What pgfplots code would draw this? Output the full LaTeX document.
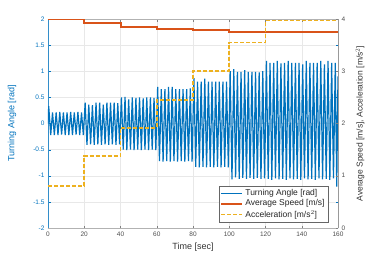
\documentclass[border=0pt]{standalone}
\usepackage{pgfplots}
\pgfplotsset{compat=1.18}
\usepackage{fontspec}
\setmainfont{Liberation Sans}
\definecolor{mblue}{rgb}{0,0.447,0.741}
\definecolor{morange}{rgb}{0.85,0.325,0.098}
\definecolor{myellow}{rgb}{0.929,0.694,0.125}
\begin{document}
\begin{tikzpicture}
\path[use as bounding box] (-48pt,-29pt) rectangle (326pt,228pt);
\begin{axis}[at={(0,0)}, anchor=south west, scale only axis, width=290pt, height=209pt,
  xmin=0, xmax=160, ymin=-2, ymax=2,
  xtick={0,20,...,160}, ytick={-2,-1.5,-1,-0.5,0,0.5,1,1.5,2},
  separate axis lines,
  x axis line style={black!30},
  y axis line style={mblue!80},
  grid=major, grid style={black!9, line width=0.4pt},
  tick align=inside, major tick length=2.5pt,
  x tick style={black!50}, y tick style={mblue},
  /pgf/number format/assume math mode=true,
  xticklabel style={font=\fontsize{6.5}{7}\selectfont, text=black!70},
  yticklabel style={font=\fontsize{6.5}{7}\selectfont, text=mblue},
  xlabel={Time [sec]}, ylabel={Turning Angle [rad]},
  xlabel style={font=\fontsize{9}{10}\selectfont, text=black!80, at={(axis description cs:0.5,-0.091)}, anchor=center},
  ylabel style={font=\fontsize{9}{10}\selectfont, text=mblue, at={(axis description cs:-0.124,0.5)}, anchor=center},
]
\addplot[mblue, line width=1.2pt] coordinates {
(0,0) (0.4,0.33) (1.5,-0.22) (2.5,0.21) (3.5,-0.22) (4.5,0.21) (5.5,-0.22) (6.5,0.22) (7.5,-0.21) (8.5,0.21) (9.5,-0.22)
(10.5,0.21) (11.5,-0.22) (12.5,0.22) (13.5,-0.22) (14.5,0.21) (15.5,-0.21) (16.5,0.22) (17.5,-0.22) (18.5,0.21) (19.5,-0.22)
(20.5,0.40) (21.5,-0.41) (22.5,0.36) (23.5,-0.40) (24.5,0.35) (25.5,-0.41) (26.5,0.40) (27.5,-0.40) (28.5,0.40) (29.5,-0.41)
(30.5,0.36) (31.5,-0.40) (32.5,0.40) (33.5,-0.41) (34.5,0.40) (35.5,-0.40) (36.5,0.40) (37.5,-0.41) (38.5,0.39) (39.5,-0.40)
(40.5,0.50) (41.5,-0.50) (42.5,0.51) (43.5,-0.51) (44.5,0.46) (45.5,-0.50) (46.5,0.50) (47.5,-0.51) (48.5,0.49) (49.5,-0.50)
(50.5,0.50) (51.5,-0.51) (52.5,0.48) (53.5,-0.50) (54.5,0.50) (55.5,-0.51) (56.5,0.50) (57.5,-0.50) (58.5,0.49) (59.5,-0.51)
(60.5,0.70) (61.5,-0.72) (62.5,0.66) (63.5,-0.73) (64.5,0.66) (65.5,-0.72) (66.5,0.70) (67.5,-0.73) (68.5,0.70) (69.5,-0.72)
(70.5,0.66) (71.5,-0.73) (72.5,0.66) (73.5,-0.72) (74.5,0.66) (75.5,-0.73) (76.5,0.66) (77.5,-0.72) (78.5,0.67) (79.5,-0.73)
(80.5,0.87) (81.5,-0.83) (82.5,0.80) (83.5,-0.84) (84.5,0.80) (85.5,-0.83) (86.5,0.86) (87.5,-0.84) (88.5,0.80) (89.5,-0.83)
(90.5,0.80) (91.5,-0.84) (92.5,0.80) (93.5,-0.83) (94.5,0.80) (95.5,-0.84) (96.5,0.80) (97.5,-0.83) (98.5,0.80) (99.5,-0.84)
(100.5,1.00) (101.5,-1.07) (102.5,1.04) (103.5,-1.03) (104.5,0.99) (105.5,-1.06) (106.5,0.99) (107.5,-1.04) (108.5,1.02) (109.5,-1.06)
(110.5,0.99) (111.5,-1.04) (112.5,0.99) (113.5,-1.06) (114.5,0.99) (115.5,-1.04) (116.5,0.98) (117.5,-1.06) (118.5,1.00) (119.5,-1.05)
(120.5,1.20) (121.5,-1.06) (122.5,1.16) (123.5,-1.08) (124.5,1.16) (125.5,-1.05) (126.5,1.20) (127.5,-1.07) (128.5,1.15) (129.5,-1.06)
(130.5,1.16) (131.5,-1.08) (132.5,1.20) (133.5,-1.05) (134.5,1.16) (135.5,-1.07) (136.5,1.16) (137.5,-1.06) (138.5,1.16) (139.5,-1.08)
(140.5,1.13) (141.5,-1.05) (142.5,1.20) (143.5,-1.07) (144.5,1.16) (145.5,-1.06) (146.5,1.16) (147.5,-1.08) (148.5,1.16) (149.5,-1.05)
(150.5,1.20) (151.5,-1.07) (152.5,1.13) (153.5,-1.06) (154.5,1.20) (155.5,-1.08) (156.5,1.16) (157.5,-1.05) (158.5,1.16) (159.3,-1.21) (160,0.9)
};
\end{axis}
\begin{axis}[at={(0,0)}, anchor=south west, scale only axis, width=290pt, height=209pt,
  xmin=0, xmax=160, ymin=0, ymax=4,
  axis x line=none, axis y line*=right,
  y axis line style={black!40},
  ytick={0,1,2,3,4},
  tick align=inside, major tick length=2.5pt,
  y tick style={black!50},
  /pgf/number format/assume math mode=true,
  yticklabel style={font=\fontsize{6.5}{7}\selectfont, text=black!70},
  ylabel={Average Speed [m/s], Acceleration [m/s$^2$]},
  ylabel style={font=\fontsize{8.5}{9}\selectfont, text=black!80, at={(axis description cs:1.076,0.5)}, anchor=center},
  legend style={at={(0.9655,0.0287)}, anchor=south east, font=\fontsize{8.5}{10}\selectfont,
    draw=black!60, fill=white, inner sep=1.2pt, row sep=-1pt, text=black!85},
  legend cell align=left,
  legend image code/.code={\draw[#1] (0cm,0cm) -- (21pt,0cm);},
]
\addlegendimage{mblue, line width=0.8pt}
\addlegendentry{Turning Angle [rad]}
\addplot[morange, line width=2pt, const plot] coordinates {
(0,4.0) (20,3.93) (40,3.85) (60,3.80) (80,3.78) (100,3.75) (120,3.745) (140,3.745) (160,3.745)
};
\addlegendentry{Average Speed [m/s]}
\addplot[myellow, line width=1.7pt, dash pattern=on 4pt off 2pt, const plot] coordinates {
(0,0.80) (20,1.38) (40,1.92) (60,2.45) (80,3.01) (100,3.55) (120,3.97) (140,3.97) (160,3.97)
};
\addlegendentry{Acceleration [m/s$^2$]}
\end{axis}
\end{tikzpicture}
\end{document}
